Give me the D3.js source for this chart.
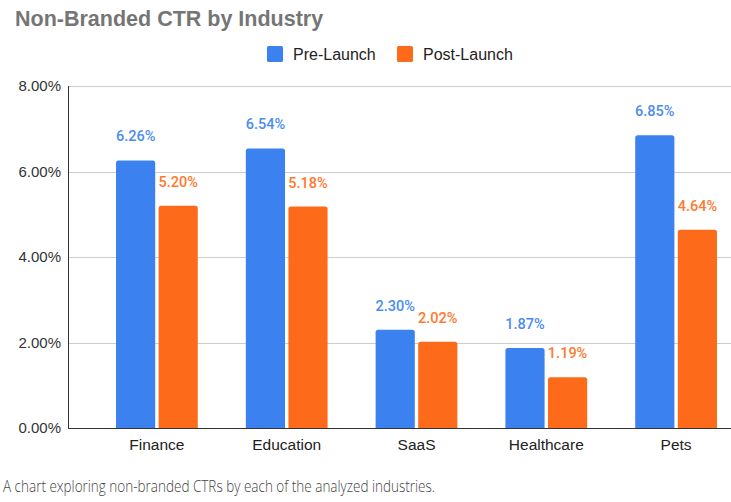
<!DOCTYPE html>
<html>
<head>
<meta charset="utf-8">
<title>Non-Branded CTR by Industry</title>
<script src="https://cdn.jsdelivr.net/npm/d3@7"></script>
<style>
  body { margin: 0; background: #fff; }
  svg { display: block; }
</style>
</head>
<body>
<div id="chart"></div>
<script>
// chart data
var industries = ["Finance", "Education", "SaaS", "Healthcare", "Pets"];
var seriesNames = ["Pre-Launch", "Post-Launch"];
var preLaunch = [6.26, 6.54, 2.30, 1.87, 6.85];
var postLaunch = [5.20, 5.18, 2.02, 1.19, 4.64];
var yTicks = [0, 2, 4, 6, 8];

var W = 731, H = 502;
var colors = ["#3b82f0", "#fd6b1a"];
var labelColors = ["#4a8cf2", "#fd7a2e"];

var svg = d3.select("#chart").append("svg").attr("width", W).attr("height", H);

// title
svg.append("text").attr("x", 15).attr("y", 26)
  .style("font-family", "Arial, 'Liberation Sans', sans-serif")
  .style("font-size", "21.5px").style("font-weight", "bold")
  .style("fill", "#757575")
  .text("Non-Branded CTR by Industry");

var y = d3.scaleLinear().domain([0, 8]).range([428, 86]);
var x = d3.scaleBand().domain(industries).range([92, 741]).paddingInner(0.37).paddingOuter(0.185);
var xs = d3.scaleBand().domain(seriesNames).range([0, x.bandwidth()]).paddingInner(0.08);

// gridlines
svg.append("g").selectAll("line").data(yTicks.filter(function (d) { return d > 0; }))
  .enter().append("line")
  .attr("x1", 69).attr("x2", W)
  .attr("y1", function (d) { return Math.round(y(d)) + 0.5; })
  .attr("y2", function (d) { return Math.round(y(d)) + 0.5; })
  .style("stroke", "#cccccc").style("stroke-width", 1);

// y axis labels
var yAxis = d3.axisLeft(y).tickValues(yTicks).tickSize(0).tickPadding(8)
  .tickFormat(function (d) { return d.toFixed(2) + "%"; });
var ga = svg.append("g").attr("transform", "translate(69,0)").call(yAxis);
ga.select(".domain").remove();
ga.selectAll("text")
  .style("font-family", "Arial, 'Liberation Sans', sans-serif")
  .style("font-size", "15px").style("fill", "#333");

// bars
var groups = svg.append("g").selectAll("g").data(industries).enter().append("g")
  .attr("transform", function (d) { return "translate(" + x(d) + ",0)"; });

function roundTop(x0, y0, w, h, r) {
  r = Math.min(r, h);
  return "M" + x0 + "," + (y0 + h) + "V" + (y0 + r) +
    "Q" + x0 + "," + y0 + " " + (x0 + r) + "," + y0 +
    "H" + (x0 + w - r) + "Q" + (x0 + w) + "," + y0 + " " + (x0 + w) + "," + (y0 + r) +
    "V" + (y0 + h) + "Z";
}

groups.each(function (d, i) {
  var g = d3.select(this);
  var vals = [preLaunch[i], postLaunch[i]];
  vals.forEach(function (v, k) {
    var bx = xs(seriesNames[k]);
    g.append("path")
      .attr("d", roundTop(bx, y(v), xs.bandwidth(), y(0) - y(v), 2.5))
      .style("fill", colors[k]);
    g.append("text")
      .attr("x", bx + xs.bandwidth() / 2)
      .attr("y", y(v) - 19)
      .attr("text-anchor", "middle")
      .style("font-family", "Roboto, Arial, sans-serif")
      .style("font-size", "14.5px").style("font-weight", "500")
      .style("fill", labelColors[k])
      .text(v.toFixed(2) + "%");
  });
});

// axes lines
svg.append("line").attr("x1", 68.5).attr("x2", 68.5).attr("y1", 86).attr("y2", 429)
  .style("stroke", "#333").style("stroke-width", 1);
svg.append("line").attr("x1", 68).attr("x2", W).attr("y1", 428.5).attr("y2", 428.5)
  .style("stroke", "#333").style("stroke-width", 1);

var xAxis = d3.axisBottom(x).tickSize(0).tickPadding(10);
var gx = svg.append("g").attr("transform", "translate(0,428)").call(xAxis);
gx.select(".domain").remove();
gx.selectAll("text")
  .attr("dy", null).attr("y", 22)
  .style("font-family", "Arial, 'Liberation Sans', sans-serif")
  .style("font-size", "15.5px").style("fill", "#222");

// legend
var legend = svg.append("g").selectAll("g").data(seriesNames).enter().append("g")
  .attr("transform", function (d, i) { return "translate(" + [267, 397][i] + ",46)"; });
legend.append("rect").attr("width", 16).attr("height", 16).attr("rx", 1.5)
  .style("fill", function (d, i) { return colors[i]; });
legend.append("text").attr("x", 26).attr("y", 13.5)
  .style("font-family", "Arial, 'Liberation Sans', sans-serif")
  .style("font-size", "16px").style("fill", "#222")
  .text(function (d) { return d; });

// caption
svg.append("text").attr("x", 3).attr("y", 492)
  .attr("textLength", 432).attr("lengthAdjust", "spacingAndGlyphs")
  .style("font-family", "'Open Sans', sans-serif")
  .style("font-size", "15.5px").style("font-weight", "300")
  .style("fill", "#444")
  .text("A chart exploring non-branded CTRs by each of the analyzed industries.");
</script>
</body>
</html>
